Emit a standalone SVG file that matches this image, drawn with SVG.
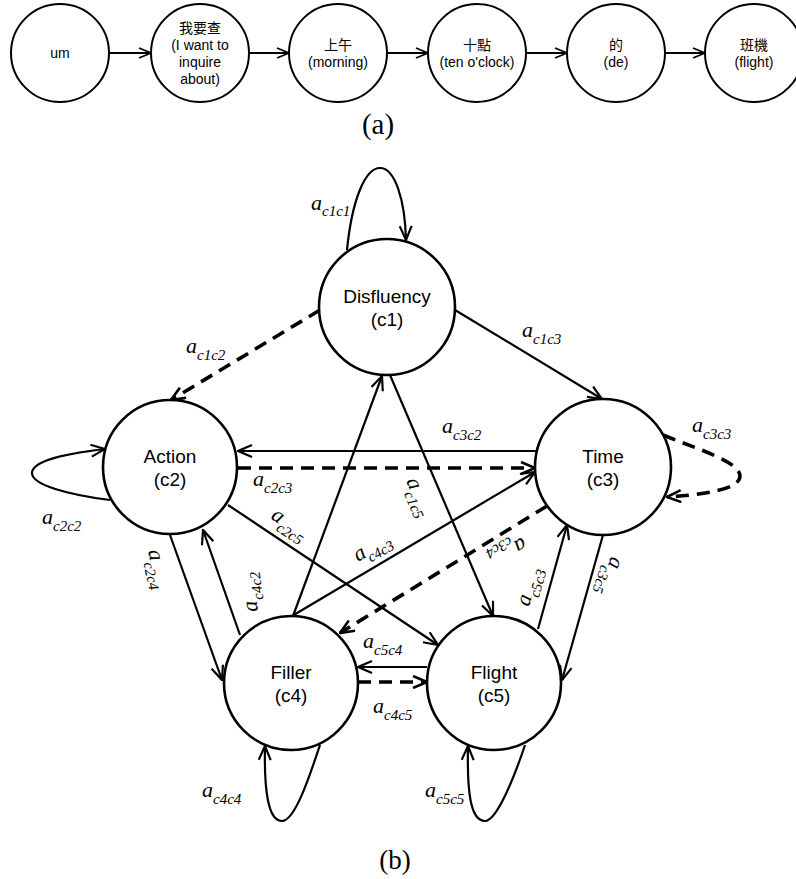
<svg xmlns="http://www.w3.org/2000/svg" width="796" height="879" viewBox="0 0 796 879">
<style>
.bg{fill:#fff}
.nd{fill:#fff;stroke:#000;stroke-width:2.6}
.tn{fill:#fff;stroke:#000;stroke-width:2}
.e{fill:none;stroke:#000;stroke-width:2.2}
.d{fill:none;stroke:#000;stroke-width:3.6;stroke-dasharray:13 8}
.t{fill:none;stroke:#000;stroke-width:1.8}
.lab{font-family:"Liberation Sans",Arial,sans-serif;font-size:19px;text-anchor:middle}
.tl{font-family:"Liberation Sans","Noto Sans CJK TC",sans-serif;font-size:14px;text-anchor:middle}
.cap{font-family:"Liberation Serif","Times New Roman",serif;text-anchor:middle}
.a{font-family:"Liberation Serif","Times New Roman",serif;font-style:italic;font-size:22px}
.s{font-size:15px}
</style>
<defs>
<marker id="ar" viewBox="0 0 16 14" refX="15" refY="7" markerWidth="16" markerHeight="14" markerUnits="userSpaceOnUse" orient="auto">
<path d="M1,1 L15,7 L1,13" fill="none" stroke="#000" stroke-width="2.2"/>
</marker>
<marker id="ard" viewBox="0 0 16 14" refX="15" refY="7" markerWidth="16" markerHeight="14" markerUnits="userSpaceOnUse" orient="auto">
<path d="M1,1 L15,7 L1,13" fill="none" stroke="#000" stroke-width="2.6"/>
</marker>
<marker id="art" viewBox="0 0 14 12" refX="13" refY="6" markerWidth="14" markerHeight="12" markerUnits="userSpaceOnUse" orient="auto">
<path d="M1,1 L13,6 L1,11" fill="none" stroke="#000" stroke-width="1.8"/>
</marker>
</defs>
<rect class="bg" x="0" y="0" width="796" height="879"/>

<!-- (a) word sequence -->
<g id="edges-a">
<line class="t" x1="109" y1="53" x2="151" y2="53" marker-end="url(#art)"/>
<line class="t" x1="249" y1="53" x2="289" y2="53" marker-end="url(#art)"/>
<line class="t" x1="387" y1="53" x2="428" y2="53" marker-end="url(#art)"/>
<line class="t" x1="526" y1="53" x2="567" y2="53" marker-end="url(#art)"/>
<line class="t" x1="665" y1="53" x2="705" y2="53" marker-end="url(#art)"/>
</g>
<g id="w1"><circle class="tn" cx="60" cy="53" r="49"/><text class="tl" x="60" y="58">um</text></g>
<g id="w2"><circle class="tn" cx="200" cy="53" r="49"/><text class="tl" x="200" y="33">我要查</text><text class="tl" x="200" y="50">(I want to</text><text class="tl" x="200" y="67">inquire</text><text class="tl" x="200" y="84">about)</text></g>
<g id="w3"><circle class="tn" cx="338" cy="53" r="49"/><text class="tl" x="338" y="50">上午</text><text class="tl" x="338" y="67">(morning)</text></g>
<g id="w4"><circle class="tn" cx="477" cy="53" r="49"/><text class="tl" x="477" y="50">十點</text><text class="tl" x="477" y="67">(ten o'clock)</text></g>
<g id="w5"><circle class="tn" cx="616" cy="53" r="49"/><text class="tl" x="616" y="50">的</text><text class="tl" x="616" y="67">(de)</text></g>
<g id="w6"><circle class="tn" cx="754" cy="53" r="49"/><text class="tl" x="754" y="50">班機</text><text class="tl" x="754" y="67">(flight)</text></g>
<text class="cap" x="378" y="134" font-size="29">(a)</text>

<!-- (b) connectors -->
<g id="edges-b">
<path class="e" d="M347,250 C352,200 365,168 380,168 C395,168 405,200 406,240" marker-end="url(#ar)"/>
<path class="d" d="M320,310 L171,400" marker-end="url(#ard)"/>
<path class="e" d="M455,310 L602,399" marker-end="url(#ar)"/>
<path class="e" d="M536,451 L238,451" marker-end="url(#ar)"/>
<path class="d" d="M238,468 L535,468" marker-end="url(#ard)"/>
<path class="d" d="M663,435 C700,450 740,462 740,476 C740,490 700,495 667,497" marker-end="url(#ard)"/>
<path class="e" d="M110,500 C70,495 30,485 32,472 C35,458 80,452 105,449" marker-end="url(#ar)"/>
<path class="e" d="M170,535 L222,680" marker-end="url(#ar)"/>
<path class="e" d="M240,635 L203,530" marker-end="url(#ar)"/>
<path class="e" d="M293,616 L382,376" marker-end="url(#ar)"/>
<path class="e" d="M390,375 L493,616" marker-end="url(#ar)"/>
<path class="e" d="M228,505 L438,645" marker-end="url(#ar)"/>
<path class="e" d="M292,616 L535,472" marker-end="url(#ar)"/>
<path class="d" d="M547,506 L340,633" marker-end="url(#ard)"/>
<path class="e" d="M427,667 L358,667" marker-end="url(#ar)"/>
<path class="d" d="M358,682 L427,682" marker-end="url(#ard)"/>
<path class="e" d="M538,629 L567,525" marker-end="url(#ar)"/>
<path class="e" d="M603,535 L562,680" marker-end="url(#ar)"/>
<path class="e" d="M320,745 C310,775 295,821 282,821 C268,821 264,790 265,746" marker-end="url(#ar)"/>
<path class="e" d="M525,745 C515,775 497,821 485,821 C470,821 467,790 468,746" marker-end="url(#ar)"/>
</g>

<!-- edge labels -->
<g id="labels">
<text class="a" x="311" y="210">a<tspan class="s" dy="6">c1c1</tspan></text>
<text class="a" x="186" y="353">a<tspan class="s" dy="7">c1c2</tspan></text>
<text class="a" x="522" y="337">a<tspan class="s" dy="7">c1c3</tspan></text>
<text class="a" x="442" y="433">a<tspan class="s" dy="7">c3c2</tspan></text>
<text class="a" x="253" y="486">a<tspan class="s" dy="7">c2c3</tspan></text>
<text class="a" x="692" y="432">a<tspan class="s" dy="7">c3c3</tspan></text>
<text class="a" x="42" y="524">a<tspan class="s" dy="7">c2c2</tspan></text>
<text class="a" x="363" y="648">a<tspan class="s" dy="7">c5c4</tspan></text>
<text class="a" x="373" y="713">a<tspan class="s" dy="7">c4c5</tspan></text>
<text class="a" x="202" y="797">a<tspan class="s" dy="7">c4c4</tspan></text>
<text class="a" x="425" y="797">a<tspan class="s" dy="7">c5c5</tspan></text>
<text class="a" x="148" y="551" transform="rotate(78 148 551)">a<tspan class="s" dy="7">c2c4</tspan></text>
<text class="a" x="258" y="611" transform="rotate(-98 258 611)">a<tspan class="s" dy="7">c4c2</tspan></text>
<text class="a" x="406" y="481" transform="rotate(67 406 481)">a<tspan class="s" dy="7">c1c5</tspan></text>
<text class="a" x="270" y="518" transform="rotate(34 270 518)">a<tspan class="s" dy="7">c2c5</tspan></text>
<text class="a" x="358" y="562" transform="rotate(-30 358 562)">a<tspan class="s" dy="7">c4c3</tspan></text>
<text class="a" x="522" y="537" transform="rotate(150 522 537)">a<tspan class="s" dy="7">c3c4</tspan></text>
<text class="a" x="529" y="607" transform="rotate(-74 529 607)">a<tspan class="s" dy="7">c5c3</tspan></text>
<text class="a" x="611" y="556" transform="rotate(108 611 556)">a<tspan class="s" dy="7">c3c5</tspan></text>
</g>

<!-- (b) nodes -->
<g id="c1"><circle class="nd" cx="387" cy="307" r="68"/><text class="lab" x="387" y="303">Disfluency</text><text class="lab" x="387" y="326">(c1)</text></g>
<g id="c2"><circle class="nd" cx="170" cy="467" r="67"/><text class="lab" x="170" y="463">Action</text><text class="lab" x="170" y="486">(c2)</text></g>
<g id="c3"><circle class="nd" cx="603" cy="467" r="68"/><text class="lab" x="603" y="463">Time</text><text class="lab" x="603" y="486">(c3)</text></g>
<g id="c4"><circle class="nd" cx="291" cy="683" r="67"/><text class="lab" x="291" y="679">Filler</text><text class="lab" x="291" y="702">(c4)</text></g>
<g id="c5"><circle class="nd" cx="494" cy="683" r="67"/><text class="lab" x="494" y="679">Flight</text><text class="lab" x="494" y="702">(c5)</text></g>
<text class="cap" x="395" y="869" font-size="27">(b)</text>
</svg>
